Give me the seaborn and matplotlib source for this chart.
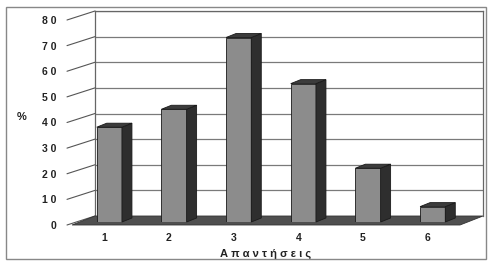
import matplotlib
matplotlib.use("Agg")
import matplotlib.pyplot as plt
from matplotlib.patches import Polygon, Rectangle
import seaborn as sns
import numpy as np

categories = ["1", "2", "3", "4", "5", "6"]
values = [37, 44, 72, 54, 21, 6]
ytick_values = [0, 10, 20, 30, 40, 50, 60, 70, 80]
ytick_labels = ["0", "1 0", "2 0", "3 0", "4 0", "5 0", "6 0", "7 0", "8 0"]
xlabel = "Α π α ν τ ή σ ε ι ς"
ylabel = "%"

sns.set_theme(style="white")
plt.rcParams['font.family'] = ['Liberation Sans', 'DejaVu Sans']

W, H = 489, 263
DPI = 100
fig = plt.figure(figsize=(W / DPI, H / DPI), dpi=DPI)
fig.patch.set_facecolor("white")


def fbox(x0, y0, x1, y1):
    return [x0 / W, 1 - y1 / H, (x1 - x0) / W, (y1 - y0) / H]


# back wall
back = fig.add_axes(fbox(95, 11, 483, 216))
back.set_xlim(-0.5, 5.5)
back.set_ylim(0, 80)
back.set_facecolor("white")
for v in ytick_values[1:]:
    back.axhline(v, color="#7a7a7a", lw=0.9)
for s in ["left", "top", "right"]:
    back.spines[s].set_color("#666666")
    back.spines[s].set_linewidth(0.9)
back.spines["bottom"].set_visible(False)
back.set_xticks([])
back.set_yticks([])

# front plane (floor, ticks, labels)
ax = fig.add_axes(fbox(72, 20, 460, 225))
ax.patch.set_alpha(0)
ax.set_xlim(-0.5, 5.5)
ax.set_ylim(0, 80)
for s in ax.spines.values():
    s.set_visible(False)

DX, DY = 23, 9


def off(a, x, y, dx, dy):
    p = a.transData.transform((x, y))
    return a.transData.inverted().transform((p[0] + dx, p[1] + dy))


floor = [off(ax, -0.5, 0, 0, 0), off(ax, 5.5, 0, 0, 0),
         off(ax, 5.5, 0, DX, DY), off(ax, -0.5, 0, DX, DY)]
ax.add_patch(Polygon(floor, closed=True, fc="#4f4f4f", ec="#333333", lw=0.6, clip_on=False, zorder=1))

for v in ytick_values:
    a = off(ax, -0.5, v, -5, 0)
    b = off(ax, -0.5, v, DX, DY)
    ax.plot([a[0], b[0]], [a[1], b[1]], color="#555555", lw=0.8, clip_on=False, zorder=0.5)

ax.set_yticks(ytick_values, ytick_labels)
ax.set_xticks(range(len(categories)), categories)
ax.tick_params(axis="y", length=0, pad=11, labelsize=7.5, labelcolor="#222222")
ax.tick_params(axis="x", length=0, pad=6, labelsize=7.5, labelcolor="#222222")
for t in ax.get_yticklabels() + ax.get_xticklabels():
    t.set_fontweight("bold")
ax.set_xlabel(xlabel, fontsize=8, fontweight="bold", color="#222222", labelpad=4)
ax.set_ylabel(ylabel, fontsize=8, fontweight="bold", color="#222222", rotation=0)
ax.yaxis.set_label_coords(-0.129, 0.5)

# bars
bax = fig.add_axes(fbox(77, 17, 465, 222))
bax.patch.set_alpha(0)
sns.barplot(x=categories, y=values, ax=bax, color="#8c8c8c", saturation=1,
            width=0.39, edgecolor="#1a1a1a", linewidth=0.6)
bax.set_xlim(-0.5, 5.5)
bax.set_ylim(0, 80)
bax.set_axis_off()

BDX, BDY = 10, 4
for p in list(bax.patches):
    x0, w, h = p.get_x(), p.get_width(), p.get_height()
    x1 = x0 + w
    side = [(x1, 0), (x1, h), off(bax, x1, h, BDX, BDY), off(bax, x1, 0, BDX, BDY)]
    top = [(x0, h), (x1, h), off(bax, x1, h, BDX, BDY), off(bax, x0, h, BDX, BDY)]
    bax.add_patch(Polygon(side, closed=True, fc="#2e2e2e", ec="#1a1a1a", lw=0.6, clip_on=False, zorder=3))
    bax.add_patch(Polygon(top, closed=True, fc="#3c3c3c", ec="#1a1a1a", lw=0.6, clip_on=False, zorder=3))

# outer frame
fig.patches.append(Rectangle((6 / W, 1 - 259 / H), (486 - 6) / W, (259 - 7) / H,
                             transform=fig.transFigure, fill=False, ec="#888888", lw=1))

fig.savefig("out.png", dpi=DPI)
